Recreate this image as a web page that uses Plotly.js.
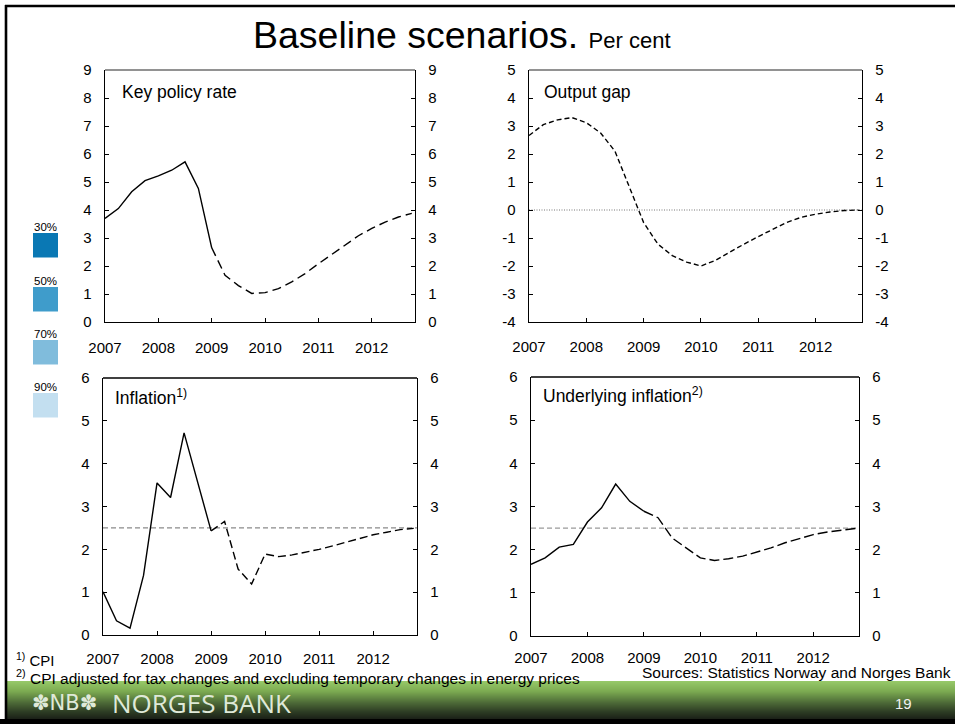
<!DOCTYPE html>
<html><head><meta charset="utf-8">
<script src="https://cdn.plot.ly/plotly-3.0.1.min.js"></script>
<style>html,body{margin:0;padding:0;background:#fff;} #chart{width:955px;height:724px;}</style>
</head><body><div id="chart"></div>
<script>
// ---------------- data ----------------
const quarters = [2007,2007.25,2007.5,2007.75,2008,2008.25,2008.5,2008.75,2009,2009.25,2009.5,2009.75,2010,2010.25,2010.5,2010.75,2011,2011.25,2011.5,2011.75,2012,2012.25,2012.5,2012.75];
const yearTicks = [2007,2008,2009,2010,2011,2012];
const yearLabels = ['2007','2008','2009','2010','2011','2012'];
const keyPolicyRate = [3.70,4.05,4.65,5.05,5.22,5.42,5.72,4.77,2.65,1.67,1.30,1.02,1.05,1.19,1.43,1.73,2.08,2.41,2.74,3.08,3.34,3.57,3.75,3.88];
const outputGap = [2.66,3.05,3.22,3.30,3.12,2.75,2.10,0.80,-0.45,-1.22,-1.63,-1.86,-2.00,-1.80,-1.50,-1.22,-0.95,-0.68,-0.44,-0.26,-0.15,-0.07,-0.02,0.00];
const inflation = [1.01,0.33,0.16,1.39,3.55,3.21,4.72,3.55,2.43,2.65,1.54,1.19,1.89,1.83,1.87,1.93,2.00,2.08,2.17,2.26,2.34,2.40,2.46,2.49];
const underlyingInflation = [1.66,1.81,2.06,2.12,2.64,2.97,3.52,3.12,2.89,2.74,2.27,2.04,1.81,1.75,1.79,1.85,1.94,2.04,2.16,2.26,2.35,2.41,2.45,2.49];
const keyRateTicks = [0,1,2,3,4,5,6,7,8,9];
const outputGapTicks = [-4,-3,-2,-1,0,1,2,3,4,5];
const inflationTicks = [0,1,2,3,4,5,6];
const inflationTarget = 2.5;
const outputGapNeutral = 0;
const firstForecastIndex = 8; // 2009 Q1
const panelTitles = ['Key policy rate','Output gap','Inflation<sup>1)</sup>','Underlying inflation<sup>2)</sup>'];
const bandLabels = ['30%','50%','70%','90%'];
const chartTitle = 'Baseline scenarios.';
const chartSubtitle = 'Per cent';
const footnote1 = '<sup>1)</sup> CPI';
const footnote2 = '<sup>2)</sup> CPI adjusted for tax changes and excluding temporary changes in energy prices';
const sourceText = 'Sources: Statistics Norway and Norges Bank';
const bankName = 'NORGES BANK';
const pageNumber = '19';

// ---------------- layout helpers ----------------
const W = 955, H = 724;
const px = x => x / W;
const py = y => 1 - y / H;
const FONT = 'Arial, "Liberation Sans", sans-serif';
const bandColors = ['#0a78b4','#3f9ccb','#80bcdc','#c3dff0'];

const panels = [
  {box:[105,415,70,322], range:[0,9], ticks:keyRateTicks, series:keyPolicyRate, split:true, dash:'9px,5px', top:'#6e6e6e', titleAt:[120,92], xStand:12},
  {box:[529,862,70,322], range:[-4,5], ticks:outputGapTicks, series:outputGap, split:false, dash:'5px,3px', top:'#6e6e6e', titleAt:[542,92], xStand:11, refLine:{v:outputGapNeutral, dash:'1px,1.5px', color:'#777', width:1}},
  {box:[103,417,378,635], range:[0,6], ticks:inflationTicks, series:inflation, split:true, dash:'8px,4px', top:'#000', titleAt:[113,397], xStand:10, refLine:{v:inflationTarget, dash:'5px,3px', color:'#8a8a8a', width:1.2}},
  {box:[531,859,377,636], range:[0,6], ticks:inflationTicks, series:underlyingInflation, split:true, dash:'10px,4px', top:'#000', titleAt:[541,395], xStand:8, refLine:{v:inflationTarget, dash:'5px,3px', color:'#9a9a9a', width:1.2}}
];

const layout = {
  width: W, height: H,
  margin: {l:0, r:0, t:0, b:0},
  paper_bgcolor: '#fff', plot_bgcolor: 'rgba(0,0,0,0)',
  showlegend: false,
  font: {family: FONT, color: '#000', size: 15},
  shapes: [], annotations: []
};
const traces = [];

panels.forEach((p, i) => {
  const [l, r, t, b] = p.box;
  const xName = i === 0 ? 'xaxis' : 'xaxis' + (i + 1);
  const xId = i === 0 ? 'x' : 'x' + (i + 1);
  const nL = 2 * i + 1, nR = 2 * i + 2;
  const yLName = nL === 1 ? 'yaxis' : 'yaxis' + nL;
  const yLId = nL === 1 ? 'y' : 'y' + nL;
  const yRName = 'yaxis' + nR;
  const yRId = 'y' + nR;
  const common = {
    ticks: 'inside', ticklen: 4, tickwidth: 1, tickcolor: '#000',
    showline: true, linecolor: '#000', linewidth: 1.3,
    showgrid: false, zeroline: false, fixedrange: true,
    tickfont: {family: FONT, size: 15, color: '#000'}
  };
  layout[xName] = Object.assign({}, common, {
    domain: [px(l), px(r)], anchor: yLId, range: [2007, 2012.81],
    tickmode: 'array', tickvals: yearTicks, ticktext: yearLabels,
    ticklabelstandoff: p.xStand
  });
  const yCommon = Object.assign({}, common, {
    domain: [py(b), py(t)], anchor: xId, range: p.range,
    tickmode: 'array', tickvals: p.ticks, ticktext: p.ticks.map(v => String(v)), ticklabelstandoff: 9
  });
  layout[yLName] = Object.assign({}, yCommon, {side: 'left'});
  layout[yRName] = Object.assign({}, yCommon, {side: 'right', overlaying: yLId});

  // top frame line
  layout.shapes.push({type:'line', xref:'paper', yref:'paper', x0:px(l), x1:px(r), y0:py(t), y1:py(t),
    line:{color:p.top, width:1.3}});

  if (p.refLine) {
    layout.shapes.push({type:'line', xref: xId + ' domain', yref: yLId, x0:0, x1:1,
      y0:p.refLine.v, y1:p.refLine.v, line:{color:p.refLine.color, width:p.refLine.width, dash:p.refLine.dash}, layer:'below'});
  }

  const f = firstForecastIndex;
  if (p.split) {
    traces.push({x: quarters.slice(0, f + 1), y: p.series.slice(0, f + 1), xaxis: xId, yaxis: yLId,
      type:'scatter', mode:'lines', line:{color:'#000', width:1.4}, hoverinfo:'skip'});
    traces.push({x: quarters.slice(f), y: p.series.slice(f), xaxis: xId, yaxis: yLId,
      type:'scatter', mode:'lines', line:{color:'#000', width:1.4, dash:p.dash}, hoverinfo:'skip'});
  } else {
    traces.push({x: quarters, y: p.series, xaxis: xId, yaxis: yLId,
      type:'scatter', mode:'lines', line:{color:'#000', width:1.4, dash:p.dash}, hoverinfo:'skip'});
  }
  // carrier for the right-hand axis
  traces.push({x: quarters, y: p.series, xaxis: xId, yaxis: yRId, type:'scatter', mode:'lines',
    line:{color:'rgba(0,0,0,0)', width:0}, hoverinfo:'skip'});

  layout.annotations.push({text: panelTitles[i], xref:'paper', yref:'paper',
    x: px(p.titleAt[0]), y: py(p.titleAt[1]), xanchor:'left', yanchor:'middle', showarrow:false,
    font:{family:FONT, size:17.5, color:'#000'}});
});

// uncertainty band legend
const boxTops = [233, 287, 340, 393];
bandLabels.forEach((lab, i) => {
  layout.shapes.push({type:'rect', xref:'paper', yref:'paper', x0:px(33), x1:px(58),
    y0:py(boxTops[i] + 24.5), y1:py(boxTops[i]), fillcolor:bandColors[i], line:{width:0}});
  layout.annotations.push({text: lab, xref:'paper', yref:'paper', x:px(45), y:py(boxTops[i] - 6),
    xanchor:'center', yanchor:'middle', showarrow:false, font:{family:FONT, size:11.5, color:'#000'}});
});

// slide frame
layout.shapes.push({type:'line', xref:'paper', yref:'paper', x0:px(5), x1:1, y0:py(6), y1:py(6), line:{color:'#000', width:2.6}});
layout.shapes.push({type:'line', xref:'paper', yref:'paper', x0:px(6), x1:px(6), y0:py(5), y1:0, line:{color:'#000', width:2.6}});

// footer gradient band
const stops = [[0,[150,200,104]],[0.25,[125,172,82]],[0.55,[78,108,56]],[0.8,[45,60,36]],[1,[25,30,22]]];
function grad(t){
  for (let k = 0; k < stops.length - 1; k++) {
    const [t0, c0] = stops[k], [t1, c1] = stops[k+1];
    if (t <= t1) { const u = (t - t0) / (t1 - t0);
      return 'rgb(' + c0.map((c, j) => Math.round(c + (c1[j] - c) * u)).join(',') + ')'; }
  }
  return 'rgb(25,30,22)';
}
const fTop = 681, fBot = 719;
for (let yy = fTop; yy < fBot; yy++) {
  layout.shapes.push({type:'rect', xref:'paper', yref:'paper', x0:px(7), x1:1, y0:py(yy + 1.2), y1:py(yy),
    fillcolor: grad((yy - fTop) / (fBot - fTop)), line:{width:0}, layer:'below'});
}
layout.shapes.push({type:'rect', xref:'paper', yref:'paper', x0:0, x1:1, y0:0, y1:py(719), fillcolor:'#000', line:{width:0}});

// title and texts
layout.annotations.push({text: chartTitle + ' <span style="font-size:22px">' + chartSubtitle + '</span>',
  xref:'paper', yref:'paper', x:px(462), y:py(35), xanchor:'center', yanchor:'middle', showarrow:false,
  font:{family:FONT, size:37.5, color:'#000'}});
layout.annotations.push({text: footnote1, xref:'paper', yref:'paper', x:px(14), y:py(659), xanchor:'left', yanchor:'middle',
  showarrow:false, font:{family:FONT, size:15, color:'#000'}});
layout.annotations.push({text: footnote2, xref:'paper', yref:'paper', x:px(14), y:py(677), xanchor:'left', yanchor:'middle',
  showarrow:false, font:{family:FONT, size:15.5, color:'#000'}});
layout.annotations.push({text: sourceText, xref:'paper', yref:'paper', x:px(953), y:py(672), xanchor:'right', yanchor:'middle',
  showarrow:false, font:{family:FONT, size:15.5, color:'#000'}});
layout.annotations.push({text: '✽NB✽', xref:'paper', yref:'paper', x:px(30), y:py(703), xanchor:'left', yanchor:'middle',
  showarrow:false, font:{family:'"DejaVu Sans", sans-serif', size:21, color:'#dfe9d8'}});
layout.annotations.push({text: bankName, xref:'paper', yref:'paper', x:px(110), y:py(703), xanchor:'left', yanchor:'middle',
  showarrow:false, font:{family:'"Open Sans", sans-serif', size:26, color:'#dfe9d8'}});
layout.annotations.push({text: pageNumber, xref:'paper', yref:'paper', x:px(903), y:py(703), xanchor:'center', yanchor:'middle',
  showarrow:false, font:{family:FONT, size:15, color:'#f2f2f2'}});

Plotly.newPlot('chart', traces, layout, {staticPlot:true, displayModeBar:false});
</script>
</body></html>
